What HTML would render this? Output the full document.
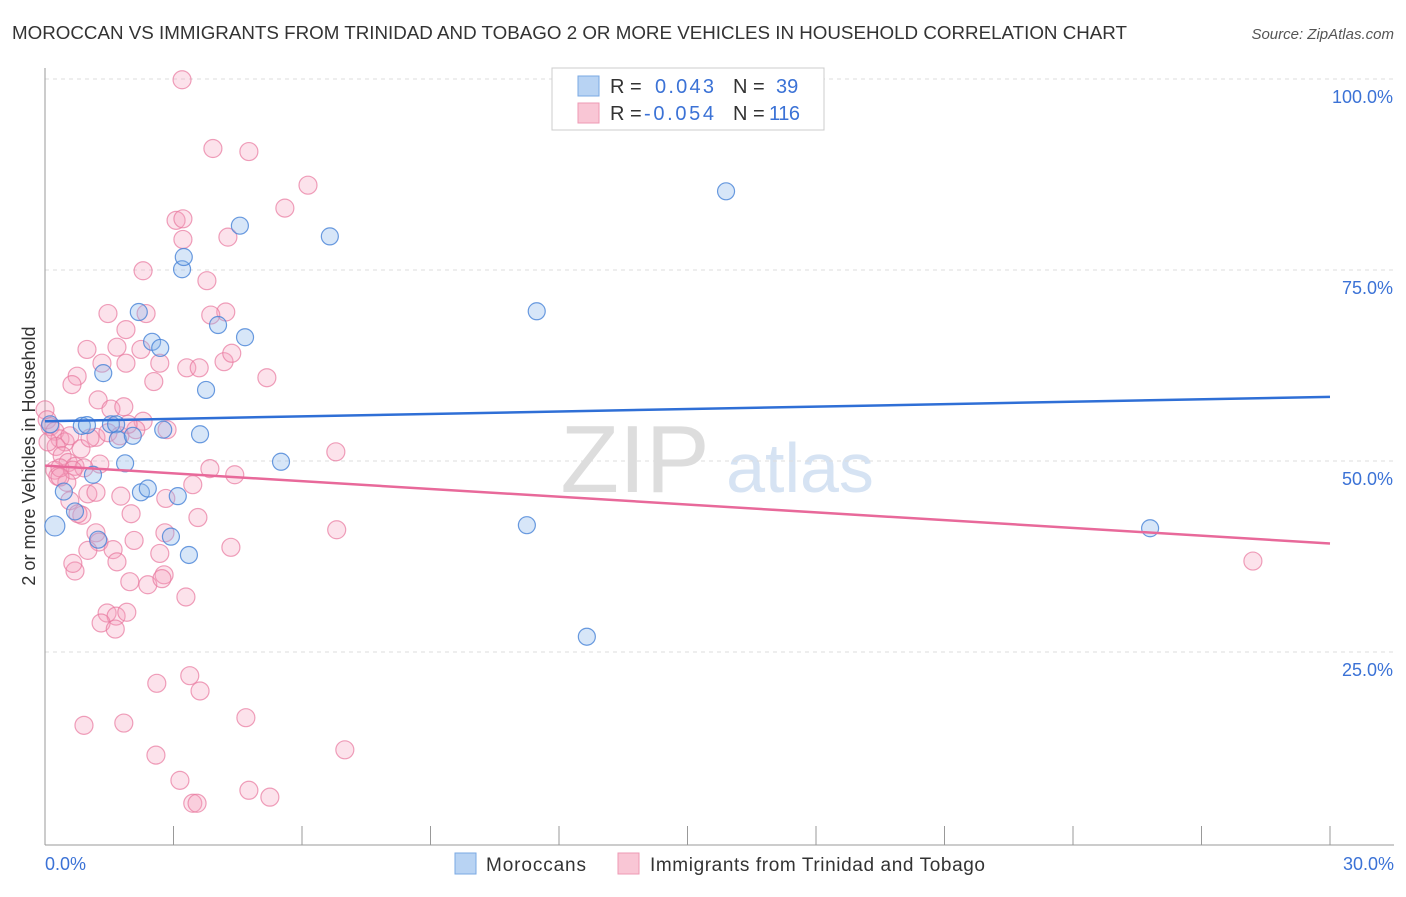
<!DOCTYPE html>
<html><head><meta charset="utf-8">
<style>
body{margin:0;background:#fff;font-family:"Liberation Sans",sans-serif;}
svg text{font-family:"Liberation Sans",sans-serif;}
</style></head>
<body>
<svg id="chart" width="1406" height="892" xmlns="http://www.w3.org/2000/svg">
<text x="12" y="39" font-size="18" fill="#333" textLength="1115" lengthAdjust="spacingAndGlyphs">MOROCCAN VS IMMIGRANTS FROM TRINIDAD AND TOBAGO 2 OR MORE VEHICLES IN HOUSEHOLD CORRELATION CHART</text>
<text x="1394" y="39" font-size="15" fill="#555" font-style="italic" text-anchor="end">Source: ZipAtlas.com</text>
<text x="35" y="456" font-size="18" fill="#333" text-anchor="middle" transform="rotate(-90 35 456)">2 or more Vehicles in Household</text>
<text x="635" y="492" font-size="96" fill="#ddd" font-family="Liberation Serif" text-anchor="middle">ZIP</text>
<text x="800" y="492" font-size="70" fill="#d6e3f3" text-anchor="middle">atlas</text>
<g id="grid"></g><g id="axes"></g><g id="pts"></g><g id="lines"></g>
<g>
<rect x="552" y="68" width="272" height="62" fill="#fff" stroke="#ccc"/>
<rect x="578" y="76" width="21" height="20" fill="#b8d3f3" stroke="#7aa8e3"/>
<rect x="578" y="103" width="21" height="20" fill="#f9c6d5" stroke="#ee9ab4"/>
<text x="610" y="93" font-size="20" fill="#333">R =</text><text x="655" y="93" font-size="20" fill="#3b72d6" textLength="59">0.043</text>
<text x="733" y="93" font-size="20" fill="#333">N =</text><text x="776" y="93" font-size="20" fill="#3b72d6">39</text>
<text x="610" y="120" font-size="20" fill="#333">R =</text><text x="644" y="120" font-size="20" fill="#3b72d6" textLength="70">-0.054</text>
<text x="733" y="120" font-size="20" fill="#333">N =</text><text x="769" y="120" font-size="20" fill="#3b72d6" textLength="31">116</text>
</g>
<g>
<rect x="455" y="853" width="21" height="21" fill="#b8d3f3" stroke="#7aa8e3"/>
<text x="486" y="871" font-size="19" fill="#333" textLength="100">Moroccans</text>
<rect x="618" y="853" width="21" height="21" fill="#f9c6d5" stroke="#ee9ab4"/>
<text x="650" y="871" font-size="19" fill="#333" textLength="335">Immigrants from Trinidad and Tobago</text>
</g>
</svg>
<script>
const yTicks=[25,50,75,100];
const yTickLabels=["25.0%","50.0%","75.0%","100.0%"];
const xTicks=[0,3,6,9,12,15,18,21,24,27,30];
const blueX=[0.23,0.44,0.70,0.86,0.98,1.12,1.24,1.36,1.54,1.66,1.70,1.87,2.05,2.19,2.24,2.40,2.50,2.69,2.76,2.94,3.10,3.20,3.24,3.36,3.62,3.76,4.04,4.55,4.67,5.51,6.65,11.25,11.48,12.65,15.90,25.8,0.12];
const blueY=[41.5,46.0,43.4,54.6,54.7,48.2,39.7,61.5,54.8,54.8,52.8,49.7,53.3,69.5,45.9,46.4,65.6,64.8,54.1,40.1,45.4,75.1,76.7,37.7,53.5,59.3,67.8,80.8,66.2,49.9,79.4,41.6,69.6,27.0,85.3,41.2,54.8];
const pinkX=[3.20,3.92,4.76,6.14,5.60,3.06,3.22,4.27,3.22,2.29,3.78,4.22,1.47,2.36,3.87,1.89,1.68,2.24,0.98,2.68,3.31,3.60,4.18,5.18,1.89,1.33,0.75,0.63,2.54,1.24,1.54,1.84,2.29,0.00,0.05,0.12,0.23,0.35,0.47,0.58,0.26,0.07,0.40,0.54,0.70,0.23,0.30,0.51,0.84,1.19,1.05,1.47,1.75,2.12,1.94,2.85,6.79,1.28,0.91,0.35,0.65,1.00,1.19,0.58,0.86,0.77,1.77,2.01,2.82,3.45,3.85,4.43,1.19,1.26,1.00,1.59,2.08,2.68,2.80,3.57,4.34,6.81,0.70,1.68,1.98,2.40,2.78,2.73,3.29,1.45,1.66,1.91,1.31,1.64,2.61,3.38,3.62,0.91,1.84,4.69,2.59,7.00,3.15,3.45,3.55,4.76,5.25,28.2,4.36,0.65,0.35];
const pinkY=[99.9,90.9,90.5,86.1,83.1,81.5,81.7,79.3,79.0,74.9,73.6,69.5,69.3,69.3,69.1,67.2,64.9,64.6,64.6,62.8,62.2,62.2,63.0,60.9,62.8,62.8,61.1,60.0,60.4,58.0,56.8,57.1,55.2,56.7,55.4,54.5,53.9,52.9,52.5,53.3,51.9,52.5,50.7,49.8,49.3,48.8,48.0,47.2,51.6,53.1,53.0,53.7,53.3,54.1,54.8,54.1,51.2,49.6,49.1,49.1,48.8,45.7,45.9,44.8,42.9,43.1,45.4,43.1,45.1,46.9,49.0,48.2,40.6,39.4,38.3,38.4,39.6,37.9,40.6,42.6,38.7,41.0,35.6,36.8,34.2,33.8,35.1,34.6,32.2,30.1,29.7,30.2,28.8,28.0,20.9,21.9,19.9,15.4,15.7,16.4,11.5,12.2,8.2,5.2,5.2,6.9,6.0,36.9,64.1,36.6,47.9];
const blueFit=[55.2,58.4];
const pinkFit=[49.4,39.2];
const NS="http://www.w3.org/2000/svg";
const X0=45,X1=1330,Y0=843,Y100=79;
function sx(v){return X0+(v/30)*(X1-X0);}
function sy(v){return Y0-(v/100)*(Y0-Y100);}
function mk(t,a,p){const e=document.createElementNS(NS,t);for(const k in a)e.setAttribute(k,a[k]);p.appendChild(e);return e;}
const grid=document.getElementById('grid'),axes=document.getElementById('axes');
yTicks.forEach((t,i)=>{
 const l=mk('line',{x1:X0,x2:1394,y1:sy(t),y2:sy(t),stroke:'#ddd','stroke-dasharray':'4,4'},grid);
 
 
 const tx=mk('text',{x:1393,y:sy(t)+24,'font-size':18,fill:'#3b72d6','text-anchor':'end'},axes);
 tx.textContent=yTickLabels[i];
 
 
});
const ax=mk('line',{x1:X0,x2:X0,y1:68,y2:845,stroke:'#999'},axes);


const bx=mk('line',{x1:X0,x2:1394,y1:845,y2:845,stroke:'#999'},axes);


xTicks.forEach(t=>{const l=mk('line',{x1:sx(t),x2:sx(t),y1:826,y2:845,stroke:'#999'},axes);
 
 });
const xl0=mk('text',{x:45,y:870,'font-size':18,fill:'#3b72d6'},axes);xl0.textContent='0.0%';


const xl1=mk('text',{x:1394,y:870,'font-size':18,fill:'#3b72d6','text-anchor':'end'},axes);xl1.textContent='30.0%';


const pts=document.getElementById('pts');
pinkX.forEach((v,i)=>{const c=mk('circle',{cx:sx(v),cy:sy(pinkY[i]),r:9,fill:'rgba(244,160,188,0.3)',stroke:'rgba(232,120,158,0.7)','stroke-width':1.2},pts);
 
 });
blueX.forEach((v,i)=>{const c=mk('circle',{cx:sx(v),cy:sy(blueY[i]),r:i==0?10:8.5,fill:'rgba(140,182,236,0.35)',stroke:'rgba(70,130,215,0.8)','stroke-width':1.2},pts);
 
 });
const lines=document.getElementById('lines');
const lb=mk('line',{x1:sx(0),x2:sx(30),y1:sy(blueFit[0]),y2:sy(blueFit[1]),stroke:'#2f6fd6','stroke-width':2.5},lines);


const lp=mk('line',{x1:sx(0),x2:sx(30),y1:sy(pinkFit[0]),y2:sy(pinkFit[1]),stroke:'#e8699a','stroke-width':2.5},lines);


</script>
</body></html>
